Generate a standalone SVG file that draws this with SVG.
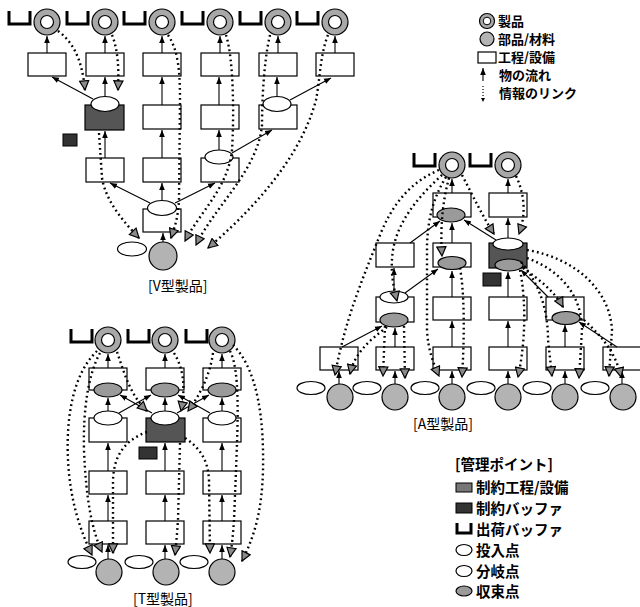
<svg xmlns="http://www.w3.org/2000/svg" width="640" height="607" viewBox="0 0 640 607">
<style>
text{font-family:"Noto Sans CJK JP","Noto Sans CJK SC",sans-serif;font-size:14px;fill:#000}
.lg{font-weight:700;font-size:13px}
.lg2{font-weight:700;font-size:14.5px}
.box{fill:#fff;stroke:#000;stroke-width:1.2}
.cbox{fill:#555;stroke:#000;stroke-width:1.2}
.buf{fill:#333;stroke:#000;stroke-width:1}
.ov{fill:#fff;stroke:#000;stroke-width:1.2}
.gov{fill:#9a9a9a;stroke:#000;stroke-width:1.2}
.mat{fill:#b3b3b3;stroke:#000;stroke-width:1.2}
.ship{fill:none;stroke:#000;stroke-width:3}
.flow{fill:none;stroke:#000;stroke-width:1.1;marker-end:url(#ah)}
.link{fill:none;stroke:#000;stroke-width:2.4;stroke-dasharray:1.8 3.2;marker-end:url(#tri)}
</style>
<defs>
<marker id="ah" viewBox="0 0 10 10" refX="10" refY="5" markerWidth="7" markerHeight="7" markerUnits="userSpaceOnUse" orient="auto"><path d="M0,1 L10,5 L0,9 z" fill="#000"/></marker>
<marker id="tri" viewBox="0 0 12 12" refX="11" refY="6" markerWidth="11" markerHeight="11" markerUnits="userSpaceOnUse" orient="auto"><path d="M1,1 L11,6 L1,11 z" fill="#8a8a8a" stroke="#000" stroke-width="1.3"/></marker>
<g id="ring"><circle r="13" fill="#a8a8a8" stroke="#000" stroke-width="1.2"/><circle r="6.5" fill="#fff" stroke="#000" stroke-width="1.2"/></g>
<path id="ushp" d="M0,0 V13 H21 V0" class="ship"/>
<circle id="matc" r="13" class="mat"/>
</defs>

<!-- ============ V type ============ -->
<g id="v-nodes">
<g id="v-ship1"><use href="#ushp" x="9" y="11"/></g>
<g id="v-ship2"><use href="#ushp" x="67" y="11"/></g>
<g id="v-ship3"><use href="#ushp" x="124" y="11"/></g>
<g id="v-ship4"><use href="#ushp" x="182" y="11"/></g>
<g id="v-ship5"><use href="#ushp" x="240" y="11"/></g>
<g id="v-ship6"><use href="#ushp" x="297" y="11"/></g>
<g id="v-prod1"><use href="#ring" x="47" y="22"/></g>
<g id="v-prod2"><use href="#ring" x="105" y="22"/></g>
<g id="v-prod3"><use href="#ring" x="162" y="22"/></g>
<g id="v-prod4"><use href="#ring" x="220" y="22"/></g>
<g id="v-prod5"><use href="#ring" x="278" y="22"/></g>
<g id="v-prod6"><use href="#ring" x="335" y="22"/></g>
<g id="v-p11"><rect class="box" x="28" y="53" width="38" height="23"/></g>
<g id="v-p12"><rect class="box" x="86" y="53" width="38" height="23"/></g>
<g id="v-p13"><rect class="box" x="143" y="53" width="38" height="23"/></g>
<g id="v-p14"><rect class="box" x="201" y="53" width="38" height="23"/></g>
<g id="v-p15"><rect class="box" x="259" y="53" width="38" height="23"/></g>
<g id="v-p16"><rect class="box" x="316" y="53" width="38" height="23"/></g>
<g id="v-c22"><rect class="cbox" x="85" y="105" width="39" height="25"/><ellipse class="ov" cx="105" cy="104" rx="14" ry="7.5"/></g>
<g id="v-p23"><rect class="box" x="143" y="105" width="38" height="24"/></g>
<g id="v-p24"><rect class="box" x="201" y="105" width="38" height="24"/></g>
<g id="v-p25"><rect class="box" x="259" y="105" width="38" height="24"/><ellipse class="ov" cx="277" cy="104" rx="14" ry="7.5"/></g>
<g id="v-buf"><rect class="buf" x="63" y="134" width="14" height="12"/></g>
<g id="v-p32"><rect class="box" x="86" y="158" width="38" height="24"/></g>
<g id="v-p33"><rect class="box" x="143" y="158" width="38" height="24"/></g>
<g id="v-p34"><rect class="box" x="201" y="158" width="38" height="24"/><ellipse class="ov" cx="219" cy="157" rx="14" ry="7"/></g>
<g id="v-p43"><rect class="box" x="143" y="209" width="38" height="23"/><ellipse class="ov" cx="162" cy="208" rx="14.5" ry="7.5"/></g>
<g id="v-release"><ellipse class="ov" cx="132" cy="249" rx="14.5" ry="7"/></g>
<g id="v-mat"><circle class="mat" cx="163" cy="256" r="14"/></g>
<text x="148" y="291">[V型製品]</text>
</g>

<!-- ============ T type ============ -->
<g id="t-nodes">
<g id="t-ship1"><use href="#ushp" x="71" y="329"/></g>
<g id="t-ship2"><use href="#ushp" x="128" y="329"/></g>
<g id="t-ship3"><use href="#ushp" x="186" y="329"/></g>
<g id="t-prod1"><use href="#ring" x="108" y="340"/></g>
<g id="t-prod2"><use href="#ring" x="165" y="340"/></g>
<g id="t-prod3"><use href="#ring" x="222" y="340"/></g>
<g id="t-p11"><rect class="box" x="89" y="368" width="38" height="22"/><ellipse class="gov" cx="108" cy="390" rx="14" ry="7"/></g>
<g id="t-p12"><rect class="box" x="146" y="368" width="38" height="22"/><ellipse class="gov" cx="165" cy="390" rx="14" ry="7"/></g>
<g id="t-p13"><rect class="box" x="203" y="368" width="38" height="22"/><ellipse class="gov" cx="222" cy="390" rx="14" ry="7"/></g>
<g id="t-p21"><rect class="box" x="89" y="418" width="38" height="24"/><ellipse class="ov" cx="108" cy="418" rx="14" ry="7"/></g>
<g id="t-c22"><rect class="cbox" x="146" y="418" width="39" height="24"/><ellipse class="ov" cx="165" cy="418" rx="14" ry="7"/></g>
<g id="t-p23"><rect class="box" x="203" y="418" width="38" height="24"/><ellipse class="ov" cx="222" cy="418" rx="14" ry="7"/></g>
<g id="t-buf"><rect class="buf" x="139" y="447" width="18" height="12"/></g>
<g id="t-p31"><rect class="box" x="89" y="471" width="38" height="23"/></g>
<g id="t-p32"><rect class="box" x="146" y="471" width="38" height="23"/></g>
<g id="t-p33"><rect class="box" x="203" y="471" width="38" height="23"/></g>
<g id="t-p41"><rect class="box" x="89" y="521" width="38" height="23"/></g>
<g id="t-p42"><rect class="box" x="146" y="521" width="38" height="23"/></g>
<g id="t-p43"><rect class="box" x="203" y="521" width="38" height="23"/></g>
<g id="t-rel1"><ellipse class="ov" cx="82" cy="562" rx="14" ry="6.5"/></g>
<g id="t-rel2"><ellipse class="ov" cx="139" cy="562" rx="14" ry="6.5"/></g>
<g id="t-rel3"><ellipse class="ov" cx="194" cy="562" rx="14" ry="6.5"/></g>
<g id="t-mat1"><use href="#matc" x="109" y="572"/></g>
<g id="t-mat2"><use href="#matc" x="166" y="572"/></g>
<g id="t-mat3"><use href="#matc" x="222" y="572"/></g>
<text x="133" y="604">[T型製品]</text>
</g>

<!-- ============ A type ============ -->
<g id="a-nodes">
<g id="a-ship1"><use href="#ushp" x="414" y="153"/></g>
<g id="a-ship2"><use href="#ushp" x="470" y="153"/></g>
<g id="a-prod1"><use href="#ring" x="452" y="165"/></g>
<g id="a-prod2"><use href="#ring" x="508" y="165"/></g>
<g id="a-p11"><rect class="box" x="433" y="193" width="38" height="24"/><ellipse class="gov" cx="451" cy="215" rx="14" ry="7"/></g>
<g id="a-p12"><rect class="box" x="489" y="193" width="38" height="24"/></g>
<g id="a-p20"><rect class="box" x="376" y="243" width="38" height="24"/></g>
<g id="a-p21"><rect class="box" x="433" y="243" width="38" height="24"/><ellipse class="gov" cx="452" cy="263" rx="14" ry="6.5"/></g>
<g id="a-c22"><rect class="cbox" x="489" y="243" width="38" height="25"/><ellipse class="ov" cx="508" cy="244" rx="15" ry="6"/><ellipse class="gov" cx="509" cy="265" rx="14" ry="6"/></g>
<g id="a-buf"><rect class="buf" x="483" y="273" width="18" height="13"/></g>
<g id="a-p30"><rect class="box" x="376" y="297" width="38" height="25"/><ellipse class="ov" cx="394" cy="297" rx="14" ry="6"/><ellipse class="gov" cx="394" cy="320" rx="14" ry="7"/></g>
<g id="a-p31"><rect class="box" x="433" y="297" width="38" height="23"/></g>
<g id="a-p32"><rect class="box" x="489" y="297" width="38" height="23"/></g>
<g id="a-p33"><rect class="box" x="546" y="297" width="38" height="23"/><ellipse class="gov" cx="566" cy="318" rx="14" ry="6.5"/></g>
<g id="a-p4a"><rect class="box" x="320" y="347" width="38" height="23"/></g>
<g id="a-p4b"><rect class="box" x="376" y="347" width="38" height="23"/></g>
<g id="a-p4c"><rect class="box" x="433" y="347" width="38" height="23"/></g>
<g id="a-p4d"><rect class="box" x="489" y="347" width="38" height="23"/></g>
<g id="a-p4e"><rect class="box" x="546" y="347" width="38" height="23"/></g>
<g id="a-p4f"><rect class="box" x="603" y="347" width="38" height="23"/></g>
<g id="a-rel1"><ellipse class="ov" cx="311" cy="388" rx="14" ry="6.5"/></g>
<g id="a-rel2"><ellipse class="ov" cx="367" cy="388" rx="14" ry="6.5"/></g>
<g id="a-rel3"><ellipse class="ov" cx="425" cy="388" rx="14" ry="6.5"/></g>
<g id="a-rel4"><ellipse class="ov" cx="481" cy="388" rx="14" ry="6.5"/></g>
<g id="a-rel5"><ellipse class="ov" cx="537" cy="388" rx="14" ry="6.5"/></g>
<g id="a-rel6"><ellipse class="ov" cx="595" cy="388" rx="14" ry="6.5"/></g>
<g id="a-mat1"><use href="#matc" x="340" y="397"/></g>
<g id="a-mat2"><use href="#matc" x="395" y="397"/></g>
<g id="a-mat3"><use href="#matc" x="452" y="397"/></g>
<g id="a-mat4"><use href="#matc" x="508" y="397"/></g>
<g id="a-mat5"><use href="#matc" x="565" y="397"/></g>
<g id="a-mat6"><use href="#matc" x="623" y="397"/></g>
<text x="413" y="429">[A型製品]</text>
</g>

<!-- ============ connectors ============ -->
<g id="connectors">
<g id="flows">
<!-- V -->
<line class="flow" x1="47" y1="53" x2="47" y2="36"/>
<line class="flow" x1="105" y1="53" x2="105" y2="36"/>
<line class="flow" x1="162" y1="53" x2="162" y2="36"/>
<line class="flow" x1="220" y1="53" x2="220" y2="36"/>
<line class="flow" x1="278" y1="53" x2="278" y2="36"/>
<line class="flow" x1="335" y1="53" x2="335" y2="36"/>
<line class="flow" x1="105" y1="96" x2="105" y2="77"/>
<line class="flow" x1="93" y1="99" x2="52" y2="77"/>
<line class="flow" x1="105" y1="158" x2="105" y2="131"/>
<line class="flow" x1="150" y1="203" x2="110" y2="183"/>
<line class="flow" x1="162" y1="200" x2="162" y2="183"/>
<line class="flow" x1="162" y1="158" x2="162" y2="130"/>
<line class="flow" x1="162" y1="105" x2="162" y2="77"/>
<line class="flow" x1="175" y1="203" x2="215" y2="183"/>
<line class="flow" x1="219" y1="150" x2="219" y2="130"/>
<line class="flow" x1="219" y1="105" x2="219" y2="77"/>
<line class="flow" x1="232" y1="153" x2="272" y2="130"/>
<line class="flow" x1="277" y1="96" x2="277" y2="77"/>
<line class="flow" x1="290" y1="100" x2="331" y2="78"/>
<line class="flow" x1="163" y1="242" x2="163" y2="233"/>
<!-- T -->
<line class="flow" x1="108" y1="368" x2="108" y2="354"/>
<line class="flow" x1="165" y1="368" x2="165" y2="354"/>
<line class="flow" x1="222" y1="368" x2="222" y2="354"/>
<line class="flow" x1="108" y1="411" x2="108" y2="398"/>
<line class="flow" x1="165" y1="411" x2="165" y2="398"/>
<line class="flow" x1="222" y1="411" x2="222" y2="398"/>
<line class="flow" x1="119" y1="413" x2="151" y2="395"/>
<line class="flow" x1="152" y1="413" x2="120" y2="395"/>
<line class="flow" x1="177" y1="413" x2="209" y2="395"/>
<line class="flow" x1="210" y1="413" x2="178" y2="395"/>
<line class="flow" x1="108" y1="471" x2="108" y2="443"/>
<line class="flow" x1="165" y1="471" x2="165" y2="443"/>
<line class="flow" x1="222" y1="471" x2="222" y2="443"/>
<line class="flow" x1="108" y1="521" x2="108" y2="495"/>
<line class="flow" x1="165" y1="521" x2="165" y2="495"/>
<line class="flow" x1="222" y1="521" x2="222" y2="495"/>
<line class="flow" x1="108" y1="559" x2="108" y2="545"/>
<line class="flow" x1="165" y1="559" x2="165" y2="545"/>
<line class="flow" x1="222" y1="559" x2="222" y2="545"/>
<!-- A -->
<line class="flow" x1="452" y1="193" x2="452" y2="179"/>
<line class="flow" x1="508" y1="193" x2="508" y2="179"/>
<line class="flow" x1="410" y1="243" x2="440" y2="221"/>
<line class="flow" x1="452" y1="243" x2="452" y2="223"/>
<line class="flow" x1="496" y1="240" x2="464" y2="220"/>
<line class="flow" x1="508" y1="238" x2="508" y2="218"/>
<line class="flow" x1="394" y1="291" x2="394" y2="268"/>
<line class="flow" x1="405" y1="293" x2="438" y2="269"/>
<line class="flow" x1="452" y1="297" x2="452" y2="271"/>
<line class="flow" x1="508" y1="297" x2="508" y2="272"/>
<line class="flow" x1="548" y1="297" x2="521" y2="270"/>
<line class="flow" x1="342" y1="347" x2="382" y2="326"/>
<line class="flow" x1="395" y1="347" x2="395" y2="328"/>
<line class="flow" x1="452" y1="347" x2="452" y2="321"/>
<line class="flow" x1="508" y1="347" x2="508" y2="321"/>
<line class="flow" x1="565" y1="347" x2="565" y2="325"/>
<line class="flow" x1="617" y1="347" x2="579" y2="322"/>
<line class="flow" x1="339" y1="384" x2="339" y2="371"/>
<line class="flow" x1="395" y1="384" x2="395" y2="371"/>
<line class="flow" x1="452" y1="384" x2="452" y2="371"/>
<line class="flow" x1="508" y1="384" x2="508" y2="371"/>
<line class="flow" x1="565" y1="384" x2="565" y2="371"/>
<line class="flow" x1="622" y1="384" x2="622" y2="371"/>
</g>
<g id="links">
<!-- V -->
<path class="link" d="M58,31 C72,41 82,58 85,90"/>
<path class="link" d="M112,35 C118,50 119,68 118,90"/>
<path class="link" d="M168,35 C178,50 180,70 180,100 L179,200 C178,218 175,226 171,238"/>
<path class="link" d="M226,35 C234,60 234,120 232,150 C228,188 200,212 185,241"/>
<path class="link" d="M270,35 C264,60 262,100 262,125 C258,170 215,206 196,245"/>
<path class="link" d="M328,35 C320,55 320,80 316,100 C300,160 250,212 208,248"/>
<path class="link" d="M99,133 L102,178 C106,202 124,222 139,238"/>
<!-- T -->
<path class="link" d="M97,351 C72,375 66,420 68,460 C70,500 80,530 92,555"/>
<path class="link" d="M100,353 C88,375 83,410 84,450 C86,500 92,530 102,552"/>
<path class="link" d="M147,432 C125,440 114,455 113,480 L113,553"/>
<path class="link" d="M117,352 C124,372 130,395 147,411"/>
<path class="link" d="M174,353 C183,368 186,385 181,411"/>
<path class="link" d="M213,353 C210,375 200,395 188,411"/>
<path class="link" d="M180,443 L178,520 C177,535 176,545 175,555"/>
<path class="link" d="M185,438 C200,448 208,460 209,480 L210,553"/>
<path class="link" d="M230,351 C240,370 238,420 236,470 L234,520 C233,535 232,545 230,557"/>
<path class="link" d="M233,345 C258,370 264,420 263,470 C262,510 255,535 242,561"/>
<!-- A -->
<path class="link" d="M439,170 C410,182 392,205 380,235 C362,280 345,320 335,375"/>
<path class="link" d="M442,175 C420,195 398,220 393,250 C390,270 393,285 397,301"/>
<path class="link" d="M446,177 C435,195 428,215 427,245 L427,330 C428,350 433,362 439,376"/>
<path class="link" d="M449,178 C443,200 440,225 442,256"/>
<path class="link" d="M462,175 C475,200 482,215 494,234"/>
<path class="link" d="M516,176 C525,195 526,215 519,234"/>
<path class="link" d="M387,327 C370,340 355,352 350,374"/>
<path class="link" d="M385,326 L383,376"/>
<path class="link" d="M404,326 L405,378"/>
<path class="link" d="M460,268 C464,290 465,330 462,377"/>
<path class="link" d="M520,270 C526,300 526,340 518,377"/>
<path class="link" d="M523,268 C540,280 555,292 563,307"/>
<path class="link" d="M521,262 C540,285 548,310 548,340 L552,376"/>
<path class="link" d="M527,258 C560,270 582,295 582,330 L579,378"/>
<path class="link" d="M527,250 C575,258 610,290 612,330 L609,376"/>
<path class="link" d="M584,320 C600,335 615,350 621,377"/>
</g>
</g>

<!-- ============ legends ============ -->
<g id="legend1">
<g id="lg-product"><circle cx="487" cy="21" r="7.5" fill="#a8a8a8" stroke="#000" stroke-width="1.2"/><circle cx="487" cy="21" r="3.8" fill="#fff" stroke="#000"/><text class="lg" x="498" y="26">製品</text></g>
<g id="lg-material"><circle cx="487" cy="39" r="7" fill="#b3b3b3" stroke="#000" stroke-width="1.2"/><text class="lg" x="498" y="44">部品/材料</text></g>
<g id="lg-process"><rect x="478" y="52" width="18" height="11" fill="#fff" stroke="#000" stroke-width="1.2"/><text class="lg" x="498" y="62">工程/設備</text></g>
<g id="lg-flow"><line x1="483" y1="81" x2="483" y2="68" class="flow"/><text class="lg" x="499" y="80">物の流れ</text></g>
<g id="lg-info"><line x1="483" y1="86" x2="483" y2="98" stroke="#000" stroke-width="1.2" stroke-dasharray="1 2"/><path d="M481,98 L485,98 L483,102 z" fill="#000"/><text class="lg" x="499" y="98">情報のリンク</text></g>
</g>
<g id="legend2">
<text class="lg2" x="455" y="470">[管理ポイント]</text>
<g id="lg-cproc"><rect x="456" y="483" width="16" height="9" fill="#777" stroke="#000"/><text class="lg2" x="476" y="493">制約工程/設備</text></g>
<g id="lg-cbuf"><rect x="456" y="503" width="16" height="10" fill="#333" stroke="#000"/><text class="lg2" x="476" y="514">制約バッファ</text></g>
<g id="lg-ship"><path d="M457,523 V533 H471 V523" class="ship"/><text class="lg2" x="476" y="535">出荷バッファ</text></g>
<g id="lg-rel"><ellipse cx="464" cy="550" rx="8" ry="5.5" class="ov"/><text class="lg2" x="476" y="556">投入点</text></g>
<g id="lg-div"><ellipse cx="464" cy="571" rx="8" ry="5.5" class="ov"/><text class="lg2" x="476" y="577">分岐点</text></g>
<g id="lg-conv"><ellipse cx="464" cy="591" rx="8" ry="5" class="gov"/><text class="lg2" x="476" y="597">収束点</text></g>
</g>
</svg>
